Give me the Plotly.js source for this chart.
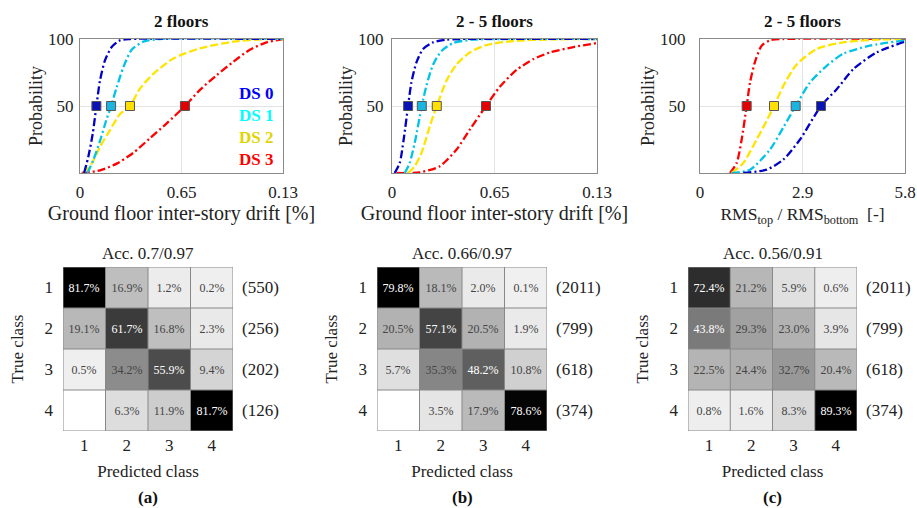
<!DOCTYPE html>
<html><head><meta charset="utf-8">
<script src="https://cdn.plot.ly/plotly-3.0.1.min.js"></script>
<style>html,body{margin:0;padding:0;background:#fff}#g{width:917px;height:508px}</style>
</head><body><div id="g"></div>
<script>
// ---------- DATA ----------
const dsNames = ['DS 0','DS 1','DS 2','DS 3'];
const panelTitles = ['2 floors','2 - 5 floors','2 - 5 floors'];
const driftTickVals = [0, 0.65, 1.3];
const driftTickText = ['0', '0.65', '0.13'];
const rmsTickVals = [0, 2.9, 5.8];
const rmsTickText = ['0', '2.9', '5.8'];
const probTickVals = [50, 100];

// Panel (a) 2 floors – drift
const a_ds0_x = [0.026,0.053,0.081,0.105,0.128,0.160,0.203,0.256,0.320,1.3];
const a_ds0_y = [0,12,29,50,69,84,94,99,100,100];
const a_ds1_x = [0.047,0.085,0.128,0.167,0.199,0.235,0.278,0.331,0.406,0.512,1.3];
const a_ds1_y = [0,9.5,24,39,50,64,79,92,98,100,100];
const a_ds2_x = [0.021,0.075,0.128,0.192,0.256,0.320,0.384,0.470,0.598,0.768,0.982,1.195,1.3];
const a_ds2_y = [0,7,19.5,32,44,50,63,74,85.5,93,98,100,100];
const a_ds3_x = [0.011,0.128,0.235,0.341,0.448,0.555,0.672,0.768,0.875,0.982,1.088,1.195,1.3];
const a_ds3_y = [0,2,7,15,26,37,50,62,73,83,92,97.5,100];
const a_median = [0.105,0.199,0.320,0.672];

// Panel (b) 2-5 floors – drift
const b_ds0_x = [0.017,0.049,0.074,0.102,0.123,0.155,0.197,0.261,0.346,0.430,1.3];
const b_ds0_y = [0,7.5,25,50,67.5,82.5,92.5,97.5,99.5,100,100];
const b_ds1_x = [0.081,0.112,0.144,0.189,0.218,0.261,0.314,0.388,0.515,0.685,1.3];
const b_ds1_y = [0,7.5,22.5,50,65,81,91,97,99.5,100,100];
const b_ds2_x = [0.102,0.144,0.187,0.240,0.284,0.346,0.409,0.494,0.600,0.770,1.003,1.3];
const b_ds2_y = [0,5,15,35,50,69,81,90,95.5,98.5,99.7,100];
const b_ds3_x = [0.028,0.176,0.303,0.409,0.494,0.596,0.685,0.791,0.897,1.003,1.151,1.3];
const b_ds3_y = [0,0.5,5,17.5,32.5,50,64.5,77,85,90,94,97];
const b_median = [0.102,0.189,0.284,0.596];

// Panel (c) 2-5 floors – RMS ratio
const c_ds0_x = [1.226,1.886,2.358,2.829,3.423,3.867,4.338,5.0,5.8];
const c_ds0_y = [0,2.5,10,25,50,62.5,77.5,90,98];
const c_ds1_x = [0.896,1.415,1.980,2.358,2.707,3.112,3.584,4.055,4.810,5.8];
const c_ds1_y = [0,2.5,17.5,34,50,67.5,80,89,95,99];
const c_ds2_x = [0.896,1.226,1.603,1.886,2.094,2.358,2.735,3.301,4.055,5.0,5.8];
const c_ds2_y = [0,7.5,25,39,50,65,81,92.5,97.5,99.5,100];
const c_ds3_x = [0.849,1.037,1.179,1.320,1.415,1.556,1.745,1.980,2.358,5.8];
const c_ds3_y = [0,7.5,25,50,67.5,83,95,99,100,100];
const c_median = [3.423,2.707,2.094,1.320];

// Confusion matrices (rows: true class, cols: predicted class, %)
const classes = [1,2,3,4];
const cmA = [[81.7,16.9,1.2,0.2],[19.1,61.7,16.8,2.3],[0.5,34.2,55.9,9.4],[null,6.3,11.9,81.7]];
const cmB = [[79.8,18.1,2.0,0.1],[20.5,57.1,20.5,1.9],[5.7,35.3,48.2,10.8],[null,3.5,17.9,78.6]];
const cmC = [[72.4,21.2,5.9,0.6],[43.8,29.3,23.0,3.9],[22.5,24.4,32.7,20.4],[0.8,1.6,8.3,89.3]];
const countsA = [550,256,202,126];
const countsB = [2011,799,618,374];
const countsC = [2011,799,618,374];
const accLabels = ['Acc. 0.7/0.97','Acc. 0.66/0.97','Acc. 0.56/0.91'];
const panelLetters = ['(a)','(b)','(c)'];

// ---------- STYLE ----------
const FONT = 'Liberation Serif';
const lineColors = ['#0000c8','#00c4e6','#ffe400','#ff0000'];
const markerColors = ['#0a14b4','#1ab4e0','#ffe000','#e40000'];
const textColors = ['#0000ff','#00ffff','#e2d400','#ff0000'];
const dashes = ['8px,3px,2px,3px','8px,3px,2px,3px','8px,3px','8px,3px,2px,3px'];

const traces = [];
const curveSets = [
  {xs:[a_ds0_x,a_ds1_x,a_ds2_x,a_ds3_x], ys:[a_ds0_y,a_ds1_y,a_ds2_y,a_ds3_y], med:a_median, ax:''},
  {xs:[b_ds0_x,b_ds1_x,b_ds2_x,b_ds3_x], ys:[b_ds0_y,b_ds1_y,b_ds2_y,b_ds3_y], med:b_median, ax:'2'},
  {xs:[c_ds0_x,c_ds1_x,c_ds2_x,c_ds3_x], ys:[c_ds0_y,c_ds1_y,c_ds2_y,c_ds3_y], med:c_median, ax:'3'}
];
curveSets.forEach(cs => {
  for (let k = 3; k >= 0; k--) {
    traces.push({type:'scatter', mode:'lines', x:cs.xs[k], y:cs.ys[k], xaxis:'x'+cs.ax, yaxis:'y'+cs.ax,
      line:{color:lineColors[k], width:2.3, dash:dashes[k], shape:'spline', smoothing:0.7},
      hoverinfo:'skip', showlegend:false, cliponaxis:true});
  }
  traces.push({type:'scatter', mode:'markers', x:cs.med, y:cs.med.map(()=>50), xaxis:'x'+cs.ax, yaxis:'y'+cs.ax,
    marker:{symbol:'square', size:9, color:markerColors, line:{color:'#555', width:1}},
    hoverinfo:'skip', showlegend:false, cliponaxis:false});
});

const mats = [cmA, cmB, cmC];
const counts = [countsA, countsB, countsC];
mats.forEach((m, i) => {
  const flat = m.flat().filter(v => v !== null);
  traces.push({type:'heatmap', z:m, x:classes, y:classes, xaxis:'x'+(i+4), yaxis:'y'+(i+4),
    zmin:0, zmax:Math.max(...flat), colorscale:[[0,'#f0f0f0'],[1,'#000000']], showscale:false,
    text:m.map(r => r.map(v => v === null ? '' : v.toFixed(1)+'%')), texttemplate:'%{text}',
    textfont:{family:FONT, size:12}, hoverinfo:'skip'});
});

// ---------- LAYOUT ----------
const W = 917, H = 508;
const px = (a,b) => [a/W, b/W];
const py = (top,bot) => [1-bot/H, 1-top/H];
const topDomX = [px(80,283), px(392,597), px(700,905)];
const topDomY = py(39,173);
const botDomX = [px(63,233), px(377,547), px(688,857)];
const botDomY = py(267,431);
const yLabelStandoff = [2, 4, 10];

const layout = {
  width:W, height:H, margin:{l:0,r:0,t:0,b:0}, paper_bgcolor:'#fff', plot_bgcolor:'#fff',
  font:{family:FONT, size:17, color:'#222'}, showlegend:false, shapes:[], annotations:[]
};
const xTitles = ['Ground floor inter-story drift [%]','Ground floor inter-story drift [%]','RMS<sub>top</sub> / RMS<sub>bottom</sub>  [-]'];
const xTitleSizes = [20, 20, 17.5];
for (let i = 0; i < 3; i++) {
  const s = i === 0 ? '' : String(i+1);
  const isRms = i === 2;
  layout['xaxis'+s] = {domain:topDomX[i], anchor:'y'+s, range:isRms?[0,5.8]:[0,1.3],
    tickvals:isRms?rmsTickVals:driftTickVals, ticktext:isRms?rmsTickText:driftTickText,
    showgrid:true, gridcolor:'#e4e4e4', zeroline:false, showline:true, linecolor:'#8a8a8a', linewidth:1, mirror:true,
    ticks:'', ticklabelstandoff:4, tickfont:{family:FONT, size:17},
    title:{text:xTitles[i], standoff:isRms?6:4, font:{family:FONT, size:xTitleSizes[i]}}};
  layout['yaxis'+s] = {domain:topDomY, anchor:'x'+s, range:[0,100], tickvals:probTickVals,
    showgrid:true, gridcolor:'#e4e4e4', zeroline:false, showline:true, linecolor:'#8a8a8a', linewidth:1, mirror:true,
    ticks:'', ticklabelstandoff:yLabelStandoff[i], tickfont:{family:FONT, size:17},
    title:{text:'Probability', standoff:0, font:{family:FONT, size:18}}};
  layout.annotations.push({xref:'x'+s+' domain', yref:'y'+s+' domain', x:0.5, y:1, yanchor:'bottom', yshift:6,
    text:'<b>'+panelTitles[i]+'</b>', showarrow:false, font:{family:FONT, size:17, color:'#111'}});
}
dsNames.forEach((n, k) => {
  layout.annotations.push({xref:'x domain', yref:'y domain', x:1, y:0.59, xanchor:'right', yanchor:'middle',
    xshift:-8, yshift:-k*21.7, text:'<b>'+n+'</b>', showarrow:false, font:{family:FONT, size:17, color:textColors[k]}});
});
for (let i = 0; i < 3; i++) {
  const s = String(i+4);
  const n = classes.length;
  layout['xaxis'+s] = {domain:botDomX[i], anchor:'y'+s, range:[0.5, n+0.5], tickvals:classes,
    showgrid:false, zeroline:false, showline:false, ticks:'', ticklabelstandoff:2, tickfont:{family:FONT, size:17},
    title:{text:'Predicted class', standoff:11, font:{family:FONT, size:17}}};
  layout['yaxis'+s] = {domain:botDomY, anchor:'x'+s, range:[n+0.5, 0.5], tickvals:classes,
    showgrid:false, zeroline:false, showline:false, ticks:'', ticklabelstandoff:9, tickfont:{family:FONT, size:17},
    title:{text:'True class', standoff:16, font:{family:FONT, size:17}}};
  for (let j = 0; j <= n; j++) {
    layout.shapes.push({type:'line', xref:'x'+s, yref:'y'+s, x0:j+0.5, x1:j+0.5, y0:0.5, y1:n+0.5, line:{color:'#888', width:1}, layer:'above'});
    layout.shapes.push({type:'line', xref:'x'+s, yref:'y'+s, y0:j+0.5, y1:j+0.5, x0:0.5, x1:n+0.5, line:{color:'#888', width:1}, layer:'above'});
  }
  counts[i].forEach((c, r) => {
    layout.annotations.push({xref:'x'+s+' domain', yref:'y'+s, x:1, y:classes[r], xanchor:'left', yanchor:'middle',
      xshift:7, text:'('+c+')', showarrow:false, font:{family:FONT, size:17, color:'#222'}});
  });
  layout.annotations.push({xref:'x'+s+' domain', yref:'y'+s+' domain', x:0.5, y:1, yanchor:'bottom', yshift:2,
    text:accLabels[i], showarrow:false, font:{family:FONT, size:17, color:'#222'}});
  layout.annotations.push({xref:'x'+s+' domain', yref:'paper', x:0.5, y:1-497/H, yanchor:'middle',
    text:'<b>'+panelLetters[i]+'</b>', showarrow:false, font:{family:FONT, size:17, color:'#111'}});
}

Plotly.newPlot('g', traces, layout, {staticPlot:true, displayModeBar:false});
</script></body></html>
